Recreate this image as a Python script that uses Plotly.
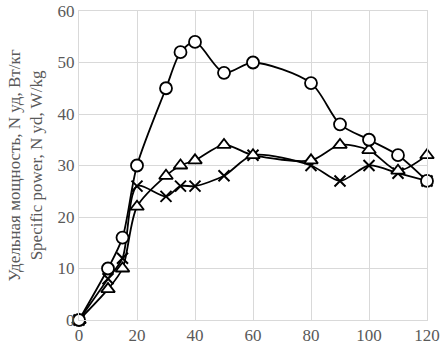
import plotly.graph_objects as go

x_vals = [0, 10, 15, 20, 30, 35, 40, 50, 60, 80, 90, 100, 110, 120]
circle_vals = [0, 10, 16, 30, 45, 52, 54, 48, 50, 46, 38, 35, 32, 27]
triangle_vals = [0, 6, 10, 22, 28, 30, 31, 34, 32, 31, 34, 33, 29, 32]
cross_vals = [0, 8, 12, 26, 24, 26, 26, 28, 32, 30, 27, 30, 28.5, 27]

y_title = "Удельная мощность, N уд, Вт/кг<br>Specific power, N yd, W/kg"

fig = go.Figure()
line_style = dict(color="black", width=1.8, shape="spline", smoothing=0.8)
fig.add_trace(go.Scatter(x=x_vals, y=cross_vals, mode="lines+markers", line=line_style,
                         cliponaxis=False,
                         marker=dict(symbol="x-thin-open", size=11, color="black",
                                     line=dict(color="black", width=2))))
fig.add_trace(go.Scatter(x=x_vals, y=triangle_vals, mode="lines+markers", line=line_style,
                         cliponaxis=False,
                         marker=dict(symbol="triangle-up", size=12, color="white",
                                     line=dict(color="black", width=1.8))))
fig.add_trace(go.Scatter(x=x_vals, y=circle_vals, mode="lines+markers", line=line_style,
                         cliponaxis=False,
                         marker=dict(symbol="circle", size=12, color="white",
                                     line=dict(color="black", width=1.8))))

font_family = "Liberation Serif"
fig.update_layout(
    width=440, height=348,
    margin=dict(l=79, r=13, t=11, b=28, autoexpand=False),
    paper_bgcolor="white", plot_bgcolor="white",
    showlegend=False,
    font=dict(family=font_family, size=17, color="#595959"),
)
fig.update_xaxes(range=[0, 120], tickvals=[0, 20, 40, 60, 80, 100, 120],
                 showgrid=True, gridcolor="#d9d9d9", gridwidth=1, automargin=False,
                 zeroline=False, showline=True, linecolor="#d9d9d9", mirror=True,
                 ticks="", tickfont=dict(family=font_family, size=17, color="#595959"))
fig.update_yaxes(range=[0, 60], tickvals=[0, 10, 20, 30, 40, 50, 60],
                 showgrid=True, gridcolor="#d9d9d9", gridwidth=1, automargin=False,
                 zeroline=False, showline=True, linecolor="#d9d9d9", mirror=True,
                 ticks="", tickfont=dict(family=font_family, size=17, color="#595959"),
                 title=dict(text=y_title, font=dict(family=font_family, size=17, color="#595959"),
                            standoff=10))

fig.write_html("out.html", config={"displayModeBar": False},
               post_script="document.body.style.margin='0px';document.body.style.padding='0px';")
